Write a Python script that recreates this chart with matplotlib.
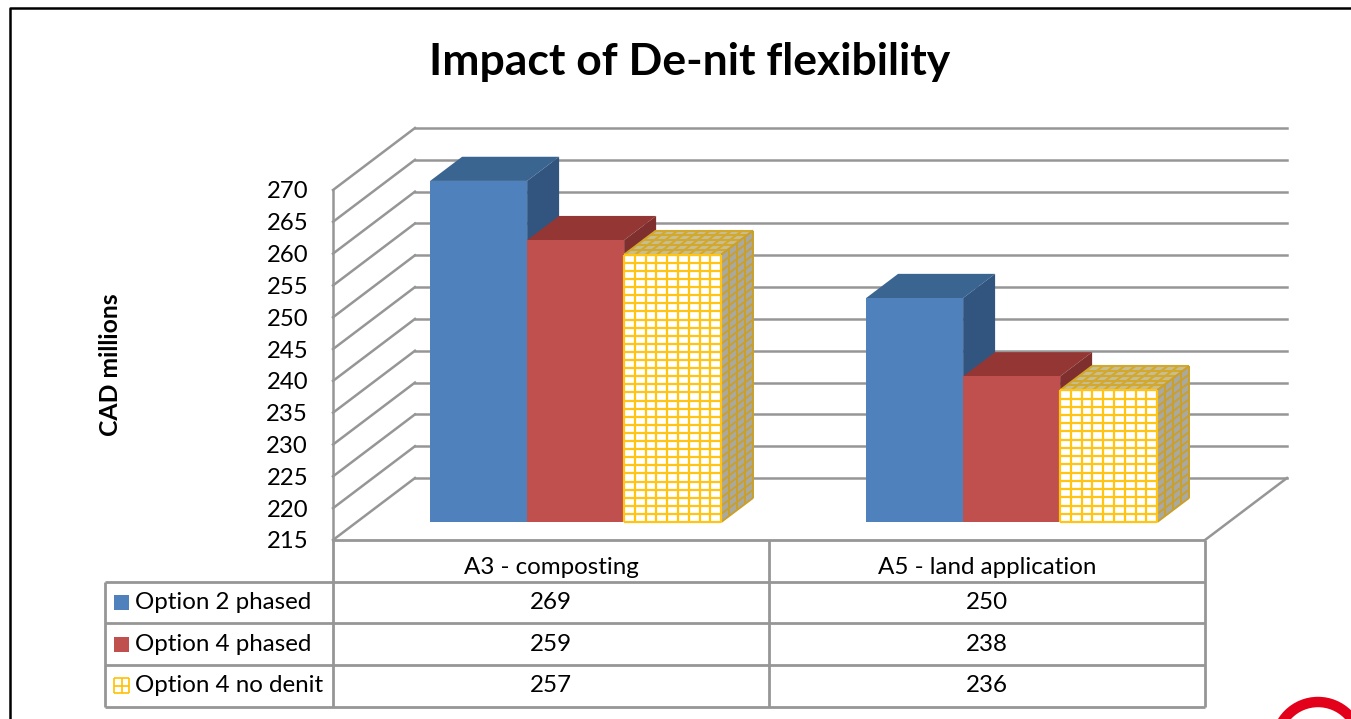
import matplotlib
matplotlib.use('Agg')
import matplotlib.pyplot as plt
from matplotlib.patches import Polygon, Circle, Rectangle
from matplotlib.collections import LineCollection

plt.rcParams['font.family'] = ['Lato', 'DejaVu Sans']

categories = ['A3 - composting', 'A5 - land application']
series_names = ['Option 2 phased', 'Option 4 phased', 'Option 4 no denit']
# values printed in the table
table_option2 = [269, 250]
table_option4 = [259, 238]
table_nodenit = [257, 236]
# bar heights
bars_option2 = [268.6, 250.2]
bars_option4 = [259.3, 237.9]
bars_nodenit = [257.0, 235.7]
y_ticks = list(range(215, 275, 5))

GREY = '#969696'
YELLOW = '#FFC000'
BASE = 215
# 3d look: offset of the back wall in axis units
DX = 0.188
DV = 9.74
BAR_D0 = 0.29
BAR_D1 = 0.68
BAR_W = 0.2225
ROW_H = 6.55
KEY_X = -0.502
KEY_W = 0.0345
KEY_H = 2.36

def proj(x, v, d):
    return (x + d * DX, v + d * DV)

# grid of lines over a 4 sided face, used for the no denit pattern
def face_grid(ax, p0, p1, p3, nu, nv, color, lw, z):
    segs = []
    ux, uy = p1[0] - p0[0], p1[1] - p0[1]
    vx, vy = p3[0] - p0[0], p3[1] - p0[1]
    for i in range(nu + 1):
        a = (p0[0] + ux * i / nu, p0[1] + uy * i / nu)
        segs.append([a, (a[0] + vx, a[1] + vy)])
    for j in range(nv + 1):
        a = (p0[0] + vx * j / nv, p0[1] + vy * j / nv)
        segs.append([a, (a[0] + ux, a[1] + uy)])
    ax.add_collection(LineCollection(segs, colors=color, linewidths=lw, zorder=z, clip_on=False))

def draw_bar(ax, x0, val, front, top, side, z, pattern=False):
    x1 = x0 + BAR_W
    f = [proj(x0, BASE, BAR_D0), proj(x1, BASE, BAR_D0), proj(x1, val, BAR_D0), proj(x0, val, BAR_D0)]
    t = [proj(x0, val, BAR_D0), proj(x1, val, BAR_D0), proj(x1, val, BAR_D1), proj(x0, val, BAR_D1)]
    s = [proj(x1, BASE, BAR_D0), proj(x1, BASE, BAR_D1), proj(x1, val, BAR_D1), proj(x1, val, BAR_D0)]
    for pts, col in [(t, top), (s, side), (f, front)]:
        ax.add_patch(Polygon(pts, closed=True, facecolor=col, edgecolor='none', zorder=z, clip_on=False))
    if pattern:
        rows = round((val - BASE) * 6.364 / 8)
        face_grid(ax, t[0], t[1], t[3], 9, 5, '#D2A92C', 1.5, z)
        face_grid(ax, s[0], s[1], s[3], 4, rows, '#C9A02C', 1.4, z)
        face_grid(ax, f[0], f[1], f[3], 9, rows, '#FFC414', 1.6, z)

fig = plt.figure(figsize=(13.51, 7.19), dpi=100)

# frame and logo, in pixels
bg = fig.add_axes([0, 0, 1, 1], zorder=0)
bg.set_xlim(0, 1351)
bg.set_ylim(719, 0)
bg.axis('off')
bg.plot([10, 10, 1351], [719, 8, 8], color='black', lw=1.8)
bg.add_patch(Circle((1318, 744), 42, fill=False, edgecolor='#E2001A', lw=7.5))

ax = fig.add_axes([333 / 1351, 1 - 540 / 719, 872 / 1351, 350 / 719], zorder=1)
ax.patch.set_alpha(0)
ax.set_xlim(0, 2)
ax.set_ylim(215, 270)
for sp in ['top', 'right', 'bottom']:
    ax.spines[sp].set_visible(False)
ax.spines['left'].set_color(GREY)
ax.spines['left'].set_linewidth(1.8)
ax.set_xticks([])
ax.set_yticks(y_ticks)
ax.tick_params(axis='y', length=0, pad=18, labelsize=17.2)
ax.set_ylabel('CAD millions', fontsize=17.8, fontweight='bold')
ax.yaxis.set_label_coords(-0.242, 0.5)

# walls
for t in y_ticks:
    ax.plot([0, DX], [t, t + DV], color=GREY, lw=1.8, clip_on=False, zorder=1)
    ax.plot([DX, 2 + DX], [t + DV, t + DV], color=GREY, lw=1.8, clip_on=False, zorder=1)
ax.plot([2, 2 + DX], [BASE, BASE + DV], color=GREY, lw=1.8, clip_on=False, zorder=1)

# bars
for c in range(len(categories)):
    left = c + 0.502 - 1.5 * BAR_W
    draw_bar(ax, left, bars_option2[c], '#4F81BD', '#3A6591', '#32557F', 2)
    draw_bar(ax, left + BAR_W, bars_option4[c], '#C0504D', '#943634', '#7F2F2E', 3)
    draw_bar(ax, left + 2 * BAR_W, bars_nodenit[c], 'white', '#C8BE96', '#A9A9A2', 4, pattern=True)

# data table under the plot
tbl_left = -0.523
rows = [BASE - ROW_H * i for i in range(5)]
ax.hlines(rows[0], 0, 2, color=GREY, lw=2, clip_on=False)
ax.hlines(rows[1:], tbl_left, 2, color=GREY, lw=2, clip_on=False)
ax.vlines(tbl_left, rows[4], rows[1], color=GREY, lw=2, clip_on=False)
ax.vlines(0, rows[4], rows[0], color=GREY, lw=2, clip_on=False)
ax.vlines(1, rows[4], rows[0], color=GREY, lw=2, clip_on=False)
ax.vlines(2, rows[4], rows[0], color=GREY, lw=2, clip_on=False)

table_values = [table_option2, table_option4, table_nodenit]
for c, name in enumerate(categories):
    ax.text(c + 0.5, rows[0] - ROW_H * 0.66, name, ha='center', va='center', fontsize=17.4, clip_on=False)
    for r in range(3):
        ax.text(c + 0.5, rows[r + 1] - ROW_H * 0.5, str(table_values[r][c]), ha='center', va='center',
                fontsize=17.4, clip_on=False)

key_colors = ['#4F81BD', '#C0504D', None]
for r, name in enumerate(series_names):
    mid = rows[r + 1] - ROW_H * 0.5
    ax.text(-0.453, mid, name, ha='left', va='center', fontsize=17.4, clip_on=False)
    y0 = mid - KEY_H / 2
    if key_colors[r]:
        ax.add_patch(Rectangle((KEY_X, y0), KEY_W, KEY_H, facecolor=key_colors[r], edgecolor='none', clip_on=False))
    else:
        face_grid(ax, (KEY_X, y0), (KEY_X + KEY_W, y0), (KEY_X, y0 + KEY_H), 2, 2, YELLOW, 1.2, 3)

fig.text(690 / 1351, 1 - 62 / 719, 'Impact of De-nit flexibility', ha='center', va='center',
         fontsize=32, fontweight='bold', color='black')

fig.savefig('out.png', dpi=100)
